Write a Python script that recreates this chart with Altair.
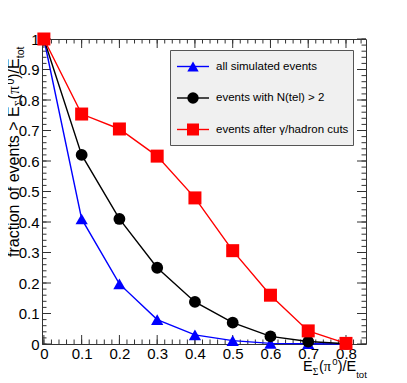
import altair as alt
import pandas as pd
import numpy as np

# ---------------- data ----------------
x_vals = [0.0, 0.1, 0.2, 0.3, 0.4, 0.5, 0.6, 0.7, 0.8]
all_sim = [1.0, 0.41, 0.197, 0.08, 0.03, 0.011, 0.002, 0.001, 0.0]
ntel = [1.0, 0.62, 0.41, 0.25, 0.138, 0.07, 0.025, 0.008, 0.001]
cuts = [1.0, 0.754, 0.705, 0.616, 0.479, 0.306, 0.16, 0.043, 0.002]
series_names = ["all simulated events", "events with N(tel) > 2", "events after γ/hadron cuts"]
series_colors = ["#0000ff", "#000000", "#ff0000"]
series_shapes = ["triangle-up", "circle", "square"]

x_major = [round(0.1 * i, 2) for i in range(9)]
x_minor = [round(0.02 * i, 2) for i in range(43)]
y_major = [round(0.1 * i, 2) for i in range(11)]
y_minor = [round(0.02 * i, 2) for i in range(51)]

W, H = 324, 305
XDOM = [-0.005, 0.853]
YDOM = [0.0, 1.0]

xs = alt.Scale(domain=XDOM, nice=False, zero=False)
ys = alt.Scale(domain=YDOM, nice=False, zero=False)

FONT = "Liberation Sans"
SERIF = "Liberation Serif"

x_axis = alt.Axis(values=x_major, format=".1~f", domain=False, ticks=False, grid=False,
                  labelFontSize=15, labelFont=FONT, labelColor="#000", labelPadding=2,
                  title=None, labelFlush=False, labelOverlap=False)
y_axis = alt.Axis(values=y_major, format=".1~f", domain=False, ticks=False, grid=False,
                  labelFontSize=15, labelFont=FONT, labelColor="#000", labelPadding=3,
                  title=None, labelFlush=False, labelOverlap=False)

def X(field):
    return alt.X(field, scale=xs, axis=x_axis)

def Y(field):
    return alt.Y(field, scale=ys, axis=y_axis)

# ---------------- ticks (ROOT style, inside, all four sides) ----------------
def xticks(vals, length, top):
    df = pd.DataFrame({"t": vals})
    if top:
        return alt.Chart(df).mark_rule(color="#333", strokeWidth=1).encode(
            x=X("t:Q"), y=alt.value(0), y2=alt.value(length))
    return alt.Chart(df).mark_rule(color="#333", strokeWidth=1).encode(
        x=X("t:Q"), y=alt.value(H), y2=alt.value(H - length))

def yticks(vals, length, right):
    df = pd.DataFrame({"t": vals})
    if right:
        return alt.Chart(df).mark_rule(color="#333", strokeWidth=1).encode(
            y=Y("t:Q"), x=alt.value(W), x2=alt.value(W - length))
    return alt.Chart(df).mark_rule(color="#333", strokeWidth=1).encode(
        y=Y("t:Q"), x=alt.value(0), x2=alt.value(length))

tick_layers = [
    xticks(x_major, 9, False), xticks(x_minor, 4.5, False),
    xticks(x_major, 9, True), xticks(x_minor, 4.5, True),
    yticks(y_major, 9, False), yticks(y_minor, 4.5, False),
    yticks(y_major, 9, True), yticks(y_minor, 4.5, True),
]

# ---------------- series ----------------
layers = []
for name, vals, col, shp in zip(series_names, [all_sim, ntel, cuts], series_colors, series_shapes):
    df = pd.DataFrame({"x": x_vals, "y": vals})
    base = alt.Chart(df)
    layers.append(base.mark_line(color=col, strokeWidth=1.4, clip=False).encode(
        x=X("x:Q"), y=Y("y:Q")))
    size = {"triangle-up": 150, "circle": 140, "square": 169}[shp]
    layers.append(base.mark_point(shape=shp, filled=True, color=col, opacity=1, size=size, clip=False).encode(
        x=X("x:Q"), y=Y("y:Q")))

# ---------------- legend ----------------
one = pd.DataFrame({"a": [0]})
leg = [alt.Chart(one).mark_rect(fill="#f0f0f0", stroke="#555", strokeWidth=1).encode(
    x=alt.value(128.5), x2=alt.value(311.5), y=alt.value(11.5), y2=alt.value(106.5))]
row_y = [27.5, 59, 90.5]
for name, col, shp, ry in zip(series_names, series_colors, series_shapes, row_y):
    leg.append(alt.Chart(one).mark_rule(color=col, strokeWidth=1.4).encode(
        x=alt.value(135), x2=alt.value(167), y=alt.value(ry)))
    size = {"triangle-up": 130, "circle": 130, "square": 144}[shp]
    leg.append(alt.Chart(one).mark_point(shape=shp, filled=True, color=col, opacity=1, size=size).encode(
        x=alt.value(151), y=alt.value(ry)))
    leg.append(alt.Chart(one).mark_text(text=name, font=FONT, fontSize=11.5, align="left",
                                        baseline="middle", color="#000").encode(
        x=alt.value(174), y=alt.value(ry)))

# ---------------- axis titles with sub/superscripts ----------------
AW = {'f': 278, 'r': 333, 'a': 556, 'c': 500, 't': 278, 'i': 222, 'o': 556, 'n': 556, ' ': 278,
      'e': 556, 'v': 500, 's': 500, '>': 584, 'E': 667, '(': 333, ')': 333, '/': 278, '0': 556}
SW = {'Σ': 600, 'π': 560}

def tw(s, size, serif=False):
    tab = SW if serif else AW
    return sum(tab.get(ch, 556) for ch in s) * size / 1000.0

def title_pieces(main, first):
    sub = main * 0.66
    return [
        (first, main, False, 0),
        ("Σ", sub, True, 4),
        ("(", main, False, 0),
        ("π", main, True, 0),
        ("0", sub, False, -6),
        (")/E", main, False, 0),
        ("tot", sub, False, 7),
    ]

title_layers = []
# x title: horizontal, baseline at page y=371 -> plot 332, start at page x=303 -> plot 261
pos = 261.0
for txt, sz, serif, shift in title_pieces(14.5, "E"):
    title_layers.append(alt.Chart(one).mark_text(text=txt, font=SERIF if serif else FONT, fontSize=sz,
                                                 align="left", baseline="alphabetic", color="#000").encode(
        x=alt.value(pos), y=alt.value(332 + shift)))
    pos += tw(txt, sz, serif) + (0.5 if serif else 0)

# y title: rotated, baseline at page x=18.5 -> plot -23.5, start at page y=257 -> plot 218
pos = 218.0
for txt, sz, serif, shift in title_pieces(16, "fraction of events > E"):
    title_layers.append(alt.Chart(one).mark_text(text=txt, font=SERIF if serif else FONT, fontSize=sz,
                                                 align="left", baseline="alphabetic", angle=270,
                                                 color="#000").encode(
        x=alt.value(-23.5 + shift * 0.8), y=alt.value(pos)))
    pos -= tw(txt, sz, serif) + (0.5 if serif else 0)

chart = alt.layer(*tick_layers, *layers, *leg, *title_layers).properties(
    width=W, height=H,
    autosize=alt.AutoSizeParams(type="none"),
    padding={"left": 34, "top": 31, "right": 25, "bottom": 36},
    background="white",
).configure_view(stroke="#333", strokeWidth=1)

chart.save("out.html", embed_options={"renderer": "svg", "actions": False})
